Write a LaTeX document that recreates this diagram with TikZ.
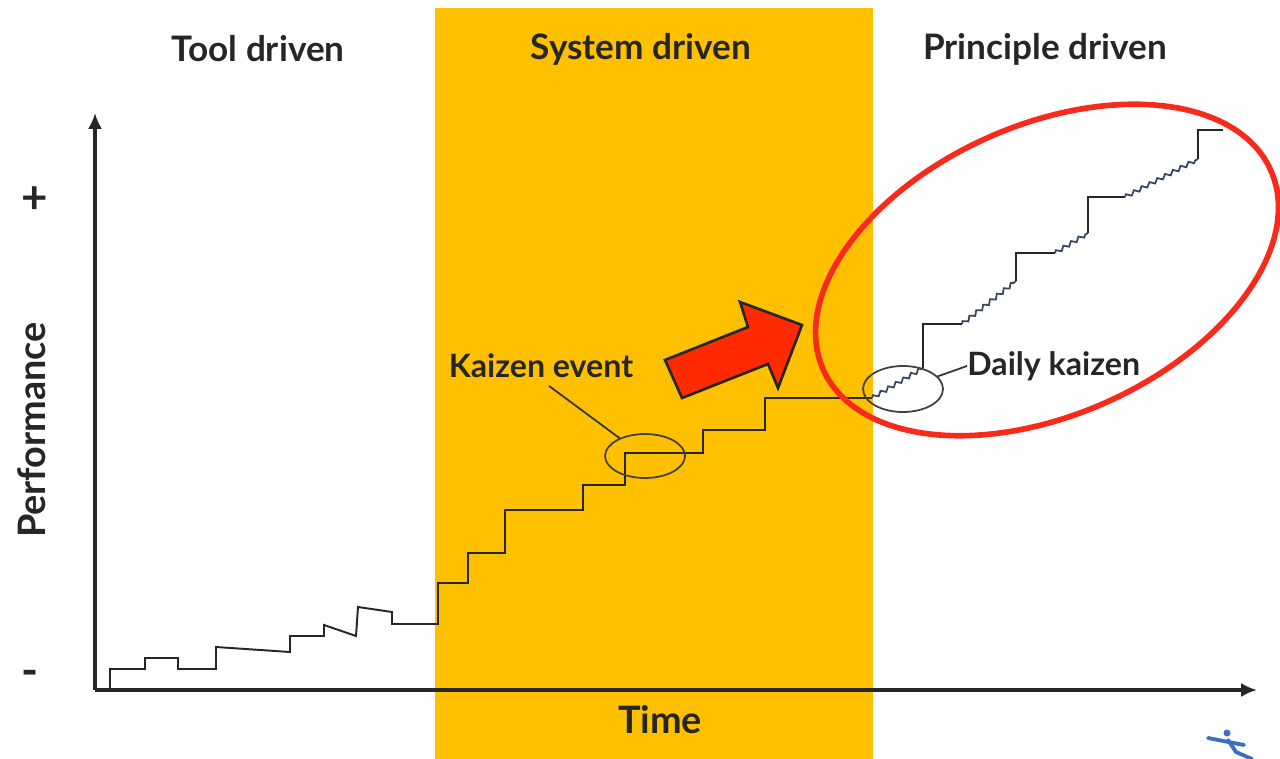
\documentclass[tikz,border=0pt]{standalone}
\usepackage{fontspec}
\setmainfont{Lato}
\usetikzlibrary{decorations.pathmorphing,arrows.meta,shapes.geometric}

\definecolor{band}{HTML}{FFC000}
\definecolor{txt}{HTML}{262626}
\definecolor{redA}{HTML}{FF2A00}
\definecolor{redE}{HTML}{F72A1C}
\definecolor{wiggle}{HTML}{34465E}
\definecolor{logo}{HTML}{3C6EC4}

\begin{document}
\begin{tikzpicture}[x=0.02cm,y=-0.02cm,
  lbl/.style={font=\bfseries\fontsize{20}{24}\selectfont, text=txt, inner sep=0pt},
  small/.style={font=\bfseries\fontsize{18.3}{22}\selectfont},
  big/.style={font=\bfseries\fontsize{21.5}{26}\selectfont},
  stair/.style={line width=1.1pt, draw=black!85, line join=miter},
  wig/.style={line width=1.0pt, draw=wiggle, decorate,
     decoration={zigzag, segment length=5pt, amplitude=1.1pt}},
  axisline/.style={line width=1.8pt, draw=black!85, -{Latex[length=9pt,width=8pt]}},
  callout/.style={draw=black!80, line width=1pt},
  ringnode/.style={draw=black!75, line width=1pt, ellipse, inner sep=0pt}]
\useasboundingbox (0,0) rectangle (1280,759);
\fill[white] (0,0) rectangle (1280,759);
\fill[band] (435,8) rectangle (873,759);

% headings
\node[lbl] (tool) at (258,49) {Tool driven};
\node[lbl] (system) at (641,49) {System driven};
\node[lbl] (principle) at (1045,49) {Principle driven};

% axes
\coordinate (origin) at (95,690);
\coordinate (ytop) at (95,113);
\coordinate (xend) at (1257,690);
\draw[axisline] (origin) -- (ytop);
\draw[axisline] (origin) -- (xend);
\node[lbl, big, rotate=90] (perf) at (32,430) {Performance};
\node[lbl, big] (time) at (660,720) {Time};
\node[lbl, font=\bfseries\fontsize{26}{28}\selectfont] (plus) at (35,200) {+};
\node[lbl, font=\bfseries\fontsize{26}{28}\selectfont] (minus) at (30,678) {-};

% staircase
\draw[stair] (110,690) |- (145,669) |- (178,658) |- (216,669)
  -- (216,647) -- (290,652) -- (290,636) -- (324,636) -- (324,625)
  -- (356,636) -- (358,607) -- (392,612) -- (392,624) -- (438,624)
  |- (468,583) |- (505,553) |- (583,510) |- (625,485) |- (703,453)
  |- (765,430) |- (872,398);
\draw[wig] (872,398) -- (923,368);
\draw[stair] (923,368) -- (923,324) -- (962,324);
\draw[wig] (962,324) -- (1016,281);
\draw[stair] (1016,281) -- (1016,253) -- (1055,253);
\draw[wig] (1055,253) -- (1088,233);
\draw[stair] (1088,233) -- (1088,197) -- (1125,197);
\draw[wig] (1125,197) -- (1198,159);
\draw[stair] (1198,159) -- (1198,130) -- (1223,130);

% kaizen event callout
\node[ringnode, minimum width=1.6cm, minimum height=0.88cm] (kzring) at (645,456) {};
\node[lbl, small] (kztext) at (541,366) {Kaizen event};
\draw[callout] ([xshift=0.16cm,yshift=-0.15cm]kztext.south) -- (kzring.145);

% daily kaizen callout
\node[ringnode, minimum width=1.6cm, minimum height=0.92cm] (dkring) at (903,389) {};
\node[lbl, small, anchor=west] (dktext) at (967,366) {Daily kaizen};
\draw[callout] (dkring.20) -- (dktext.west);

% big red ellipse
\draw[redE, line width=3.2pt, rotate around={24:(1047,270)}]
  (1047,270) ellipse [x radius=4.9cm, y radius=2.9cm];

% red arrow
\coordinate (a1) at (665,360);
\coordinate (a2) at (748,327);
\coordinate (a3) at (740,302);
\coordinate (a4) at (802,325);
\coordinate (a5) at (778,388);
\coordinate (a6) at (768,364);
\coordinate (a7) at (682,398);
\fill[black!80, shift={(2.5,3)}] (a1) -- (a2) -- (a3) -- (a4) -- (a5) -- (a6) -- (a7) -- cycle;
\draw[fill=redA, draw=black!85, line width=1.5pt, line join=miter]
  (a1) -- (a2) -- (a3) -- (a4) -- (a5) -- (a6) -- (a7) -- cycle;

% logo fragment
\fill[logo] (1227,733) circle [radius=0.07cm];
\draw[logo, line width=2.2pt, line cap=round] (1208,738) -- (1244,745);
\draw[logo, line width=2.2pt, line cap=round] (1228,740) -- (1236,752) -- (1252,759);
\end{tikzpicture}
\end{document}
